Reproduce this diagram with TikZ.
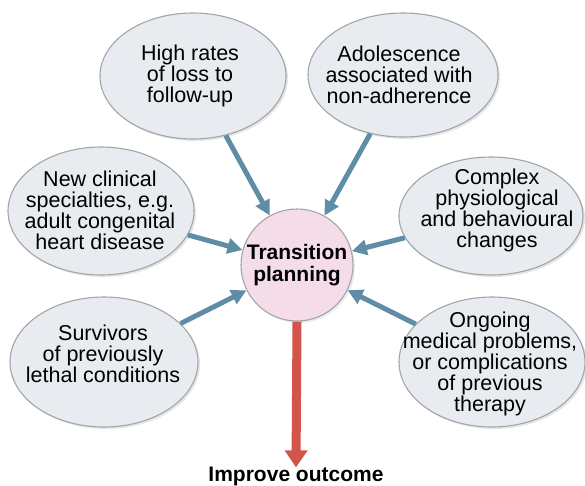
\documentclass[tikz,border=0pt]{standalone}
\usepackage{fontspec}
\setmainfont{Liberation Sans}
\usetikzlibrary{arrows.meta,shapes.geometric,shadows}
\definecolor{bubblefill}{HTML}{E8ECF0}
\definecolor{bubbleedge}{HTML}{A2A5A8}
\definecolor{hubfill}{HTML}{F4DDE9}
\definecolor{steel}{HTML}{5F8DA6}
\definecolor{brick}{HTML}{D2544B}

\begin{document}
\begin{tikzpicture}[x=1pt,y=-1pt,
  bubble/.style={ellipse,draw=bubbleedge,line width=1.1pt,fill=bubblefill,
    minimum width=186pt,minimum height=126pt,inner sep=0pt,
    drop shadow={opacity=0.2,shadow xshift=2pt,shadow yshift=-2pt}},
  txt/.style={align=center,inner sep=0pt,font=\fontsize{21.5}{21}\selectfont},
  feed/.style={-{Triangle[length=15pt,width=15pt]},line width=5pt,draw=steel},
  result/.style={-{Triangle[length=17pt,width=22pt]},line width=9pt,draw=brick}]
  \useasboundingbox (0,0) rectangle (585,485);
  % outer bubbles
  \node[bubble] (loss) at (193,76) {};
  \node[bubble,minimum width=190pt,minimum height=124pt] (teen) at (403,75) {};
  \node[bubble,minimum height=128pt] (clinic) at (101,211) {};
  \node[bubble,minimum width=184pt,minimum height=118pt] (physio) at (491,216) {};
  \node[bubble,minimum width=188pt,minimum height=130pt] (survive) at (104,362) {};
  \node[bubble,minimum height=130pt] (ongoing) at (492,362) {};
  \node[txt] (losstext) at (190,76) {High rates\\of loss to\\follow-up};
  \node[txt] (teentext) at (399,75) {Adolescence\\associated with\\non-adherence};
  \node[txt] (clinictext) at (100,210) {New clinical\\specialties, e.g.\\adult congenital\\heart disease};
  \node[txt] (physiotext) at (497,210) {Complex\\physiological\\and behavioural\\changes};
  \node[txt] (survivetext) at (103,354) {Survivors\\of previously\\lethal conditions};
  \node[txt] (ongoingtext) at (490,364) {Ongoing\\medical problems,\\or complications\\of previous\\therapy};
  % hub and outcome
  \node[circle,draw=bubbleedge,line width=1.1pt,fill=hubfill,minimum size=112pt,inner sep=0pt,
    drop shadow={opacity=0.15,shadow xshift=2pt,shadow yshift=-2pt},
    align=center,font=\fontsize{21}{22}\selectfont\bfseries] (hub) at (297,265) {Transition\\planning};
  \node[anchor=base,inner sep=0pt,font=\fontsize{21}{21}\selectfont\bfseries] (outcome) at (296,481) {Improve outcome};
  \foreach \src in {loss,teen,clinic,physio,survive,ongoing}
    \draw[feed] (\src) -- (hub);
  \draw[result] (hub.south) -- ([yshift=-1pt]outcome.north);
\end{tikzpicture}
\end{document}
